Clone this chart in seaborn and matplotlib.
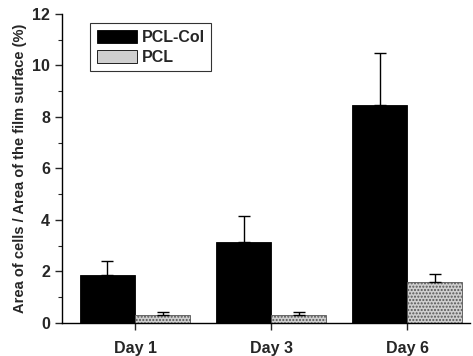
import numpy as np
import pandas as pd
import seaborn as sns
import matplotlib.pyplot as plt
from matplotlib.ticker import MultipleLocator

days = ['Day 1', 'Day 3', 'Day 6']
groups = ['PCL-Col', 'PCL']
pcl_col_mean = [1.85, 3.15, 8.45]
pcl_col_err = [0.57, 1.0, 2.05]
pcl_mean = [0.3, 0.3, 1.6]
pcl_err = [0.12, 0.12, 0.3]

df = pd.DataFrame({
    'day': days * 2,
    'group': [groups[0]] * 3 + [groups[1]] * 3,
    'area': pcl_col_mean + pcl_mean,
    'err': pcl_col_err + pcl_err,
})

sns.set_style('ticks')
plt.rcParams['font.family'] = ['Liberation Sans', 'DejaVu Sans']
plt.rcParams['font.weight'] = 'bold'

fig = plt.figure(figsize=(4.73, 3.56), dpi=100)
ax = fig.add_axes([0.131, 0.093, 0.863, 0.868])

sns.barplot(data=df, x='day', y='area', hue='group', order=days,
            hue_order=groups, palette=['black', '#cfcfcf'], width=0.81,
            saturation=1, edgecolor='black', linewidth=0.6, ax=ax)

# hatch the PCL bars for the dotted look
for bar in ax.containers[1]:
    bar.set_hatch('.....')
    bar.set_edgecolor('#555555')

for cont, g in zip(ax.containers, groups):
    sub = df[df['group'] == g]
    xs = [p.get_x() + p.get_width() / 2 for p in cont]
    ax.errorbar(xs, sub['area'], yerr=[np.zeros(len(sub)), sub['err']],
                fmt='none', ecolor='black', elinewidth=1.0, capsize=4,
                capthick=1.0)

ax.set_xlim(-0.537, 2.463)
ax.set_ylim(0, 12)
ax.yaxis.set_major_locator(MultipleLocator(2))
ax.yaxis.set_minor_locator(MultipleLocator(1))
ax.tick_params(axis='y', which='major', direction='out', length=5, width=1,
               labelsize=11.5)
ax.tick_params(axis='y', which='minor', direction='out', length=3, width=0.8)
ax.tick_params(axis='x', direction='out', length=5, width=1, labelsize=11.5,
               pad=8)
for lab in ax.get_xticklabels() + ax.get_yticklabels():
    lab.set_fontweight('bold')

ax.set_xlabel('')
ax.set_ylabel('Area of cells / Area of the film surface (%)', fontsize=10.5,
              fontweight='bold', labelpad=4)

sns.despine(ax=ax)
for s in ['left', 'bottom']:
    ax.spines[s].set_linewidth(1.0)
    ax.spines[s].set_color('black')

leg = ax.legend(loc='upper left', bbox_to_anchor=(0.05, 0.995), frameon=True,
                fancybox=False, edgecolor='black', fontsize=11.5,
                handlelength=2.5, handleheight=0.9, borderpad=0.4,
                labelspacing=0.3, handletextpad=0.3)
leg.get_frame().set_linewidth(0.8)
for t in leg.get_texts():
    t.set_fontweight('bold')

fig.savefig('out.png', dpi=100)
